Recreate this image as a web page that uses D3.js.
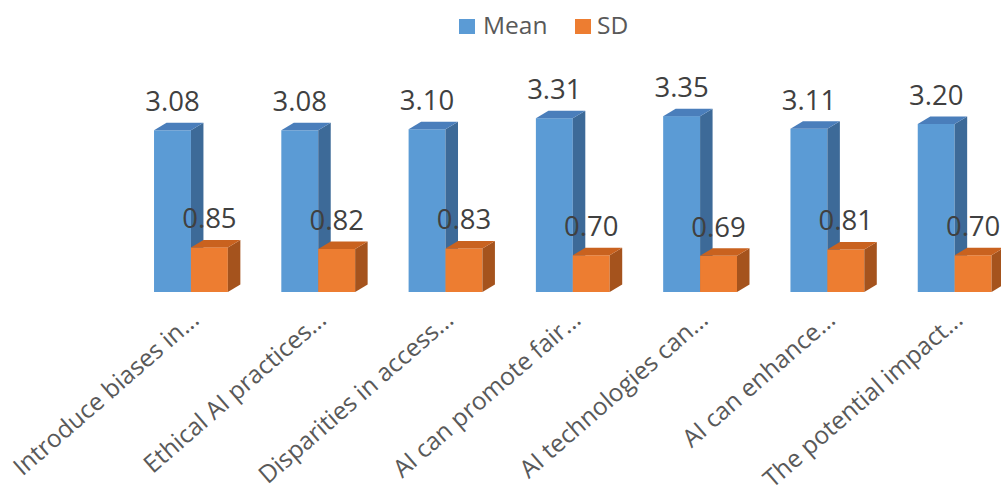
<!DOCTYPE html>
<html><head><meta charset="utf-8">
<script src="https://cdn.jsdelivr.net/npm/d3@7"></script>
<style>html,body{margin:0;padding:0;background:#fff;}svg{display:block;}</style>
</head><body>
<svg id="chart" width="1001" height="498"></svg>
<script>
const categories = ["Introduce biases in...","Ethical AI practices...","Disparities in access...","AI can promote fair...","AI technologies can...","AI can enhance...","The potential impact..."];
const meanValues = [3.08,3.08,3.10,3.31,3.35,3.11,3.20];
const sdValues = [0.85,0.82,0.83,0.70,0.69,0.81,0.70];
const seriesNames = ["Mean","SD"];
const seriesColors = {Mean:{front:"#5B9BD5",top:"#4A7EBB",side:"#3D6A98"},SD:{front:"#ED7D31",top:"#C9621F",side:"#A5531D"}};

const svg = d3.select("#chart");
svg.append("rect").attr("width",1001).attr("height",498).attr("fill","#fff");
const base = 292, dx = 12.5, dy = -7.5;
const x0 = d3.scaleBand().domain(categories).range([127.3,1018.3]).paddingInner(0.42).paddingOuter(0.21);
const x1 = d3.scaleBand().domain(seriesNames).range([0,x0.bandwidth()]);
const y = d3.scaleLinear().domain([0,4]).range([base, base-210]);
const data = categories.map((c,i)=>({cat:c, vals:[{s:"Mean",v:meanValues[i]},{s:"SD",v:sdValues[i]}]}));

const g = svg.append("g");
data.forEach(d=>{
  const gg = g.append("g");
  d.vals.forEach(b=>{
    const x = x0(d.cat)+x1(b.s), w = x1.bandwidth(), yt = y(b.v), col = seriesColors[b.s];
    gg.append("rect").attr("x",x).attr("y",yt).attr("width",w).attr("height",base-yt).attr("fill",col.front);
    gg.append("polygon").attr("points",[[x+w,yt],[x+w+dx,yt+dy],[x+w+dx,base+dy],[x+w,base]].map(p=>p.join(",")).join(" ")).attr("fill",col.side);
    gg.append("polygon").attr("points",[[x,yt],[x+dx,yt+dy],[x+w+dx,yt+dy],[x+w,yt]].map(p=>p.join(",")).join(" ")).attr("fill",col.top);
  });
});
// value labels
data.forEach(d=>{
  d.vals.forEach(b=>{
    const x = x0(d.cat)+x1(b.s), w = x1.bandwidth();
    g.append("text").attr("x",x+w/2).attr("y",y(b.v)+dy-11.5).attr("text-anchor","middle")
      .attr("font-family","'Open Sans',sans-serif").attr("font-size",27.5).attr("fill","#404040").text(b.v.toFixed(2));
  });
});
// category labels
categories.forEach(c=>{
  const ax = x0(c)+46.5, ay = 322;
  svg.append("text").attr("transform",`translate(${ax},${ay}) rotate(-41)`).attr("text-anchor","end")
    .attr("font-family","'Open Sans',sans-serif").attr("font-size",24.5).attr("fill","#595959").text(c);
});
// legend
const legendX = [459,575], legendTX=[483,597];
seriesNames.forEach((s,i)=>{
  svg.append("rect").attr("x",legendX[i]).attr("y",19).attr("width",16).attr("height",15).attr("fill",seriesColors[s].front);
  svg.append("text").attr("x",legendTX[i]).attr("y",34).attr("font-family","'Open Sans',sans-serif").attr("font-size",24.5).attr("fill","#595959").text(s);
});
</script>
</body></html>
